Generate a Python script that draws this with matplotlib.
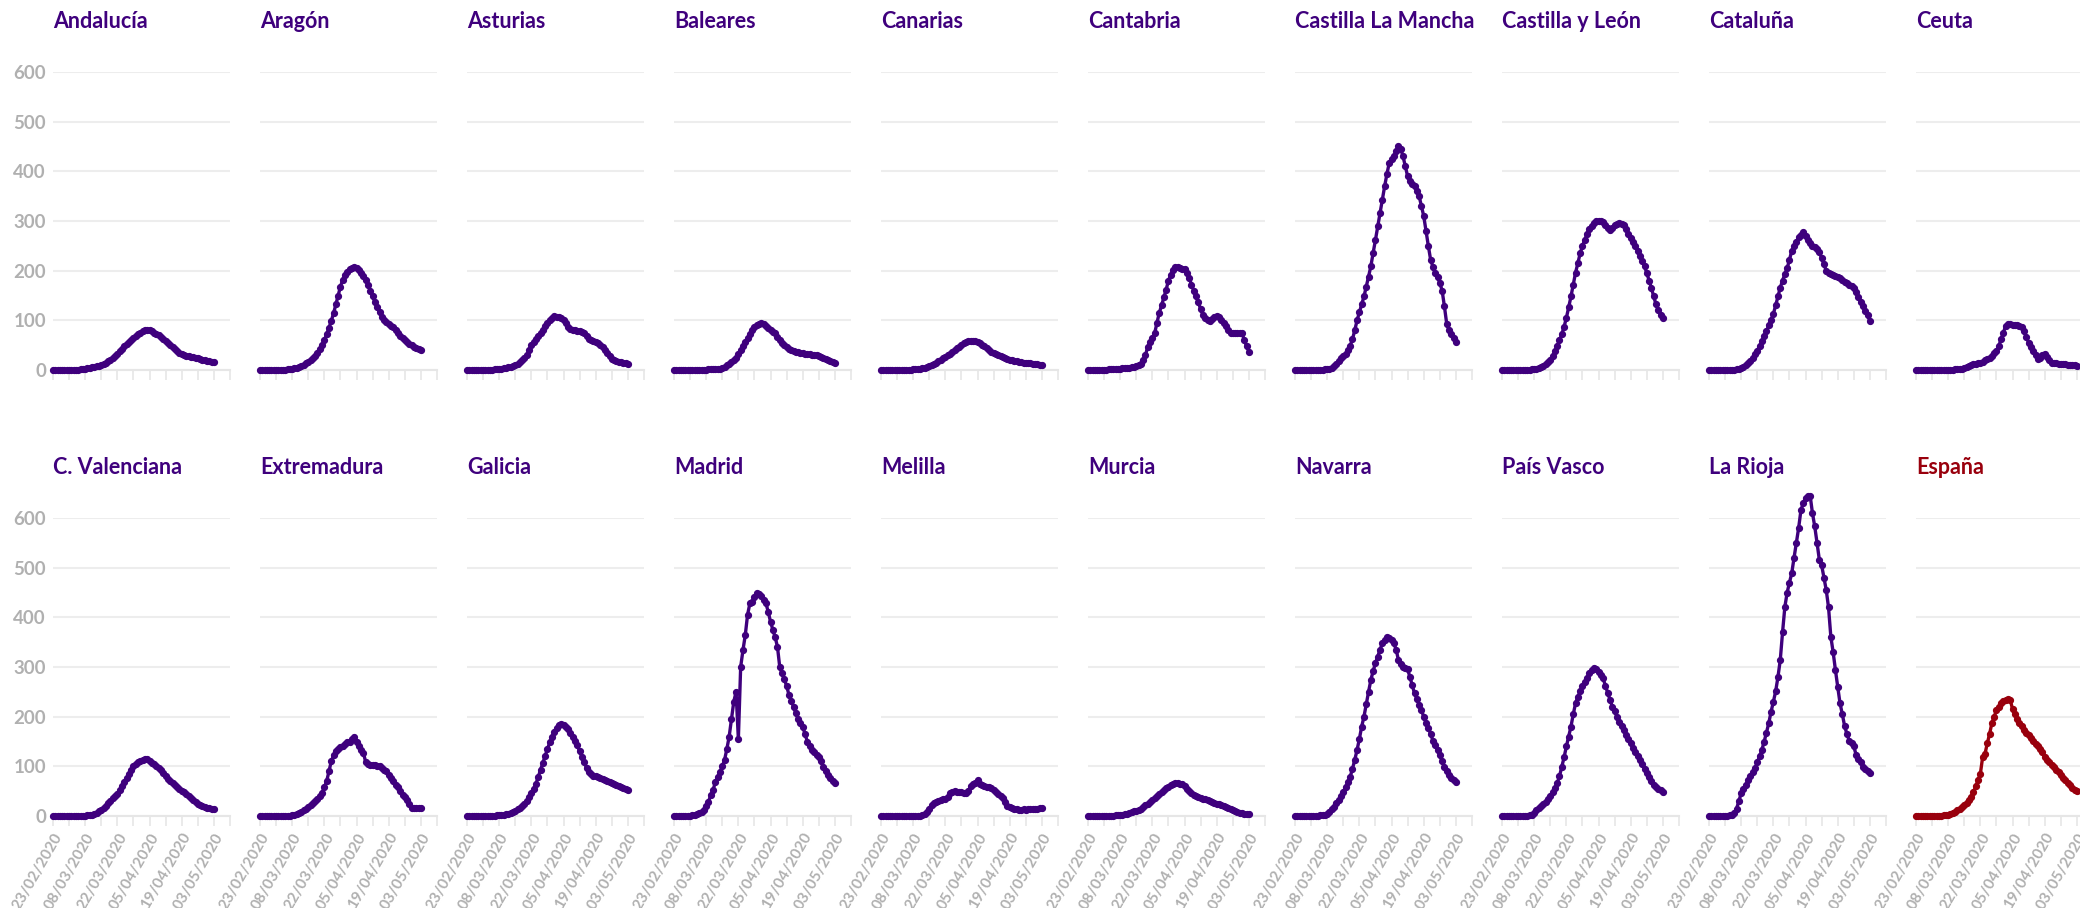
import matplotlib
matplotlib.use("Agg")
import matplotlib.pyplot as plt
import pandas as pd

plt.rcParams['font.family'] = ['Lato', 'DejaVu Sans']

dates = pd.date_range("2020-02-23", "2020-05-03")
tick_dates = pd.date_range("2020-02-23", "2020-05-10", freq="7D")
tick_labels = ["23/02/2020", "", "08/03/2020", "", "22/03/2020", "", "05/04/2020", "",
               "19/04/2020", "", "03/05/2020", ""]
y_ticks = [0, 100, 200, 300, 400, 500, 600]

andalucia = [0,0,0,0,0,0,0,0,1,1,1,1,2, 2,3,4,5,6,7,8,9, 11,13,15,18,21,24,28, 33,38,43,48,53,57,61,
             65,69,72,75,78,80,81, 80,78,75,72,70,67,63, 59,55,50,46,42,38,35, 33,31,29,28,27,26,25,
             24,22,21,20,19,18,17,16]
aragon = [0,0,0,0,0,0,0,0,0,1,1,1,2, 2,3,4,5,7,9,11,14, 17,20,24,29,35,42,50, 60,72,85,99,114,132,150,
          168,182,192,198,203,206,207, 205,201,196,189,181,172,160, 148,137,126,116,107,101,96,
          92,89,86,80,74,69,64, 60,56,53,50,47,45,42,40]
asturias = [0,0,0,0,0,0,0,0,1,1,1,1,2, 2,3,3,4,5,6,7,8, 10,13,16,20,25,30,40, 50,56,62,68,74,81,88,
            94,100,105,108,107,106,105, 100,94,87,83,80,80,79, 79,77,74,68,62,60,58, 57,54,51,47,41,35,29,
            23,20,18,17,16,15,14,13]
baleares = [0,0,0,0,0,0,0,0,0,0,1,1,1, 1,1,2,2,2,3,3,3, 5,7,10,13,16,20,24, 32,40,48,56,64,73,81,
            86,91,93,95,92,88,84, 80,77,74,67,60,54,50, 46,43,40,38,37,36,35, 34,33,33,32,31,30,30,
            29,27,25,22,20,18,16,15]
canarias = [0,0,0,0,0,0,0,0,0,0,1,1,1, 1,2,2,3,3,4,5,6, 8,10,13,15,18,21,24, 27,30,33,37,40,44,47,
            51,54,57,58,59,59,58, 56,54,51,48,44,41,37, 34,32,30,28,26,24,22, 21,20,19,18,17,16,15,
            15,14,14,13,13,12,11,10]
cantabria = [0,0,0,0,0,0,1,1,1,2,2,2,3, 3,3,4,4,4,5,6,7, 9,11,13,20,30,47,56, 65,74,95,115,130,146,162,
             180,192,202,208,207,205,204, 203,195,186,172,160,149,136, 123,111,105,100,98,102,106,
             108,107,100,94,88,80,74, 74,75,74,74,74,60,48,37]
castilla_mancha = [0,0,0,0,0,0,0,0,0,1,1,1,1, 2,2,3,5,8,12,18,24, 29,33,40,49,62,80,100,
                   116,132,148,168,188,209,236, 262,289,316,343,370,395,417, 425,430,440,450,445,430,410,
                   390,380,374,370,360,350,330, 310,280,250,222,208,195,188, 175,160,128,93,80,73,64,56]
castilla_leon = [0,0,0,0,0,0,0,0,0,0,1,1,1, 2,2,3,4,6,9,12,16, 21,28,38,48,60,72,87,
                 105,126,148,172,196,215,235, 250,262,274,284,290,296,299, 300,301,298,291,285,281,286,
                 291,294,296,294,291,284,274, 266,258,250,240,230,220,209, 195,180,165,148,132,120,111,104]
cataluna = [0,0,0,0,0,0,0,0,0,1,1,1,2, 3,5,7,10,14,19,25,32, 39,48,58,68,78,90,101,
            113,130,148,166,180,193,205, 222,240,250,258,267,272,277, 270,262,255,250,248,244,238,
            225,213,200,195,193,192,190, 188,185,181,178,175,172,170, 165,157,146,137,128,119,110,99]
ceuta = [0,0,0,0,0,0,0,0,0,0,0,0,0, 0,1,1,1,2,2,2,3, 5,7,9,10,12,13,14, 15,17,20,23,25,29,34,
         38,48,62,75,89,92,92, 91,91,90,88,86,78,66, 55,46,39,30,22,24,30, 32,26,20,15,14,14,13,
         13,12,12,11,11,10,10,9]
valenciana = [0,0,0,0,0,0,0,0,0,0,1,1,1, 1,1,2,2,2,4,7,10, 13,16,21,26,31,36,41, 45,52,60,68,76,84,93,
              100,104,108,111,113,114,115, 111,107,104,100,97,92,86, 80,75,70,66,62,58,54,
              51,48,45,41,36,32,28, 25,23,21,19,17,16,15,14]
extremadura = [0,0,0,0,0,0,0,0,0,0,1,1,1, 1,2,2,4,6,9,12,15, 18,22,26,30,34,40,47, 58,70,90,110,122,130,135,
               138,140,145,150,150,155,159, 150,140,133,127,108,105,103, 103,102,101,100,97,93,90,
               83,76,70,63,59,50,43, 38,32,25,16,16,16,16,16]
galicia = [0,0,0,0,0,0,0,0,0,0,1,1,1, 2,2,3,3,4,5,7,9, 11,14,17,21,25,31,38, 46,55,65,79,93,107,121,
           135,148,160,170,178,184,185, 183,180,175,168,160,151,142, 130,119,108,97,88,84,81,
           80,78,76,74,72,70,68, 66,64,63,61,59,57,55,53]
madrid = [0,0,0,0,0,0,1,1,2,3,4,6,9, 12,20,29,42,52,69,78,89, 100,113,135,160,195,230,250,
          155,300,334,364,405,428,430, 440,448,446,442,435,428,411, 391,375,360,341,300,287,275,
          262,244,232,220,207,195,188, 180,165,150,140,132,128,122, 119,110,99,90,82,76,71,67]
melilla = [0,0,0,0,0,0,0,0,0,0,0,0,0, 0,0,0,0,0,2,5,9, 15,22,26,28,31,32,34, 35,38,46,48,50,49,49,
           49,47,46,50,60,64,66, 72,65,62,60,59,58,56, 52,49,45,40,36,28,21, 18,16,15,14,13,13,14,
           13,14,15,14,14,15,16,17]
murcia = [0,0,0,0,0,0,0,0,0,1,1,1,2, 2,3,3,4,5,6,8,10, 11,13,15,18,22,25,29, 33,36,41,45,49,53,57,
          59,62,64,66,66,65,64, 60,55,50,46,42,40,38, 37,35,34,32,30,28,27, 25,24,22,21,19,17,15,
          13,11,9,7,6,5,4,4]
navarra = [0,0,0,0,0,0,0,0,1,1,1,2,2, 2,4,8,14,19,26,33,40, 48,58,68,79,95,113,133,
           155,180,200,225,250,274,292, 308,321,335,348,355,361,359, 355,348,335,314,306,300,297,
           295,280,263,247,236,224,213, 200,188,178,165,152,142,133, 122,110,99,90,82,76,72,69]
pais_vasco = [0,0,0,0,0,0,0,0,0,1,1,1,2, 3,6,12,16,21,25,29,35, 41,48,56,66,80,99,118,
              140,160,180,205,227,240,251, 261,270,278,287,293,297,295, 290,283,277,262,248,234,220,
              212,200,190,182,173,164,155, 146,137,128,120,113,104,95, 86,78,70,62,59,55,52,49]
la_rioja = [0,0,0,0,0,0,0,0,1,2,3,6,15, 30,46,55,62,72,80,88,96, 108,120,133,150,168,187,210,
            230,251,280,314,370,421,450, 470,489,520,550,580,616,630, 640,644,645,610,583,550,516,
            505,480,455,420,361,330,294, 260,227,205,181,165,152,146, 140,123,115,108,99,95,91,87]
espana = [0,0,0,0,0,0,0,0,1,1,1,1,2, 2,3,4,6,9,12,15,19, 22,27,33,39,48,60,72,
          85,119,125,146,165,187,200, 213,220,228,232,234,236,234, 215,205,196,188,181,174,168,
          163,157,151,145,140,134,128, 118,113,108,103,98,93,88, 82,77,72,67,62,57,53,50]

panels = [
    ("Andalucía", andalucia), ("Aragón", aragon), ("Asturias", asturias), ("Baleares", baleares),
    ("Canarias", canarias), ("Cantabria", cantabria), ("Castilla La Mancha", castilla_mancha),
    ("Castilla y León", castilla_leon), ("Cataluña", cataluna), ("Ceuta", ceuta),
    ("C. Valenciana", valenciana), ("Extremadura", extremadura), ("Galicia", galicia),
    ("Madrid", madrid), ("Melilla", melilla), ("Murcia", murcia), ("Navarra", navarra),
    ("País Vasco", pais_vasco), ("La Rioja", la_rioja), ("España", espana),
]

purple = "#3f007d"
red = "#99000d"
grey = "#b0b0b0"

W, H = 2080, 908
fig = plt.figure(figsize=(W / 100, H / 100), dpi=100)

for i, (name, values) in enumerate(panels):
    row, col = divmod(i, 10)
    left = 53 + col * 207
    top = 72 + row * 446
    ax = fig.add_axes([left / W, 1 - (top + 298) / H, 177 / W, 298 / H])
    color = red if name == "España" else purple

    ax.plot(dates, values, color=color, lw=2.4, marker="o", ms=4.2, clip_on=False, zorder=3)

    ax.set_xlim(tick_dates[0], tick_dates[-1])
    ax.set_ylim(0, 600)
    ax.set_yticks(y_ticks)
    ax.set_xticks(tick_dates)
    ax.grid(axis="y", color="#ededed", lw=1.5)
    ax.set_axisbelow(True)
    for s in ["top", "right", "left"]:
        ax.spines[s].set_visible(False)
    ax.spines["bottom"].set_color("#e6e6e6")
    ax.spines["bottom"].set_linewidth(1.5)
    ax.tick_params(axis="x", length=7, color="#e6e6e6", width=1.2)
    ax.tick_params(axis="y", length=0, pad=5, labelsize=13.5, labelcolor=grey)
    for t in ax.get_yticklabels():
        t.set_fontweight("bold")

    if row == 1:
        ax.set_xticklabels(tick_labels, rotation=60, ha="right", rotation_mode="anchor",
                           fontsize=11, color=grey, fontweight="bold")
    else:
        ax.set_xticklabels([])
    if col != 0:
        ax.set_yticklabels([])

    fig.text(left / W, 1 - (top - 50) / H, name, color=color, fontsize=15.5,
             fontweight="bold", va="center", ha="left")

fig.savefig("out.png", dpi=100)
